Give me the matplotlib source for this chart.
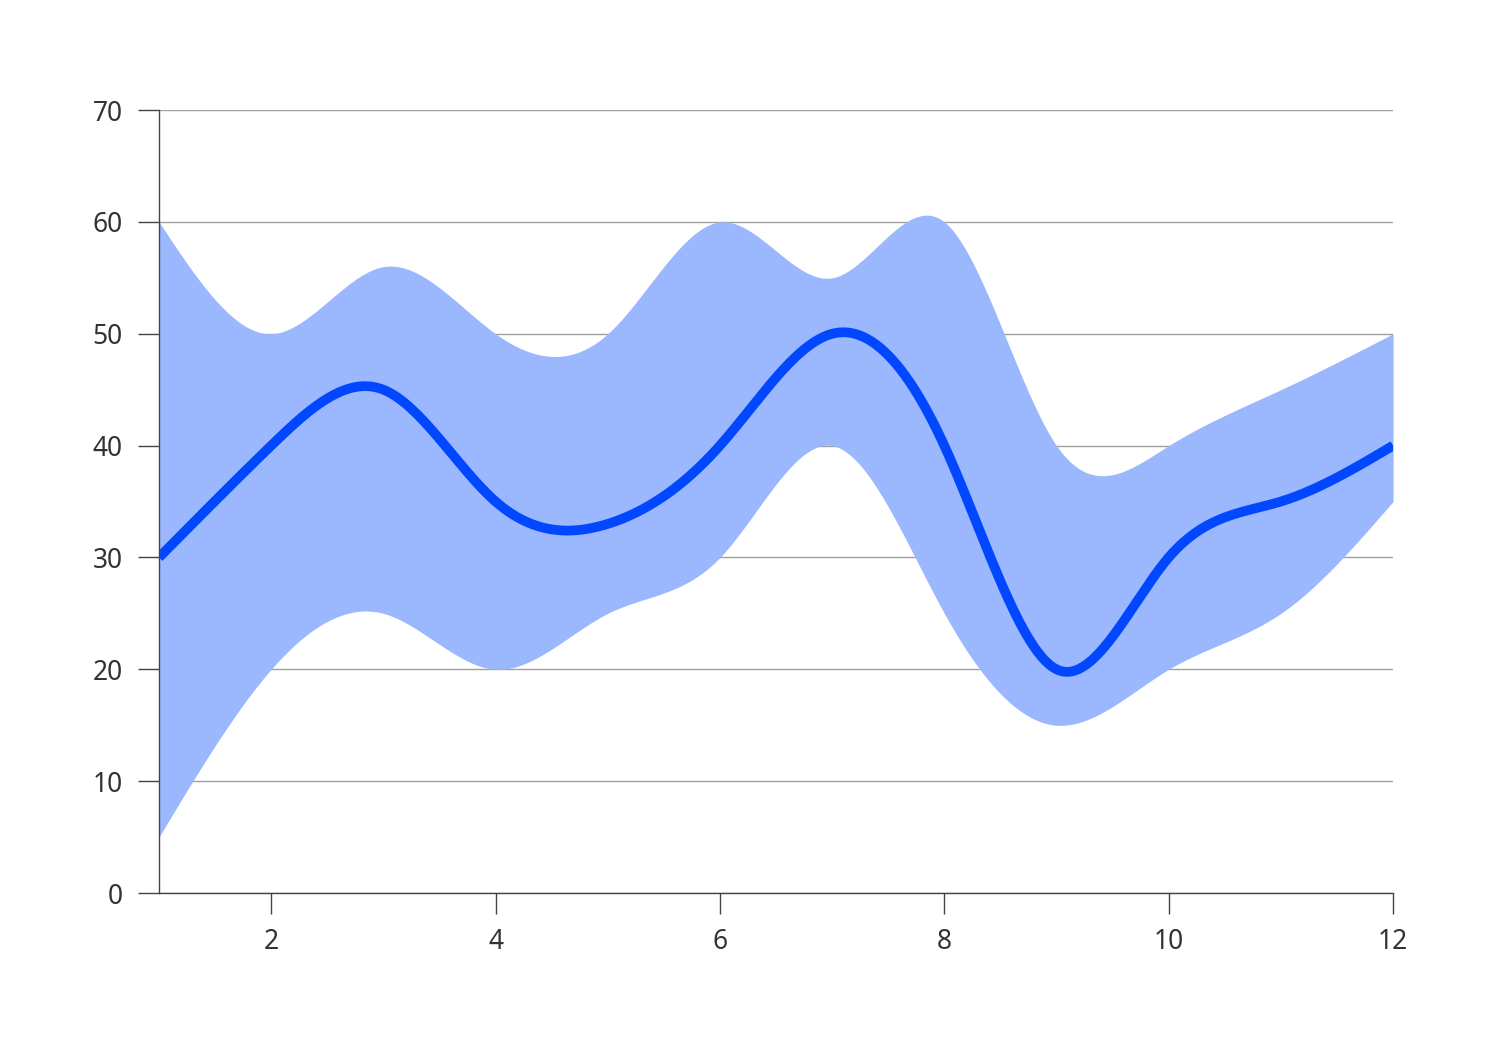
import numpy as np
import matplotlib
matplotlib.use('Agg')
import matplotlib.pyplot as plt

# values read at each integer x
x = [1, 2, 3, 4, 5, 6, 7, 8, 9, 10, 11, 12]
mid = [30, 40, 45, 35, 33, 40, 50, 40, 20, 30, 35, 40]
upper = [60, 50, 56, 50, 50, 60, 55, 60, 40, 40, 45, 50]
lower = [5, 20, 25, 20, 25, 30, 40, 25, 15, 20, 25, 35]

line_color = '#0047ff'
band_color = '#9bb8ff'
text_color = '#333333'


def smooth(xs, ys, n=60):
    # natural cubic spline through the points (drawing only)
    xs = np.asarray(xs, float)
    ys = np.asarray(ys, float)
    k = len(xs)
    h = np.diff(xs)
    A = np.zeros((k, k))
    r = np.zeros(k)
    A[0, 0] = A[-1, -1] = 1
    for i in range(1, k - 1):
        A[i, i - 1] = h[i - 1]
        A[i, i] = 2 * (h[i - 1] + h[i])
        A[i, i + 1] = h[i]
        r[i] = 6 * ((ys[i + 1] - ys[i]) / h[i] - (ys[i] - ys[i - 1]) / h[i - 1])
    M = np.linalg.solve(A, r)
    out_x, out_y = [], []
    for i in range(k - 1):
        t = np.linspace(xs[i], xs[i + 1], n, endpoint=False)
        a = xs[i + 1] - t
        b = t - xs[i]
        y = (M[i] * a**3 + M[i + 1] * b**3) / (6 * h[i]) \
            + (ys[i] / h[i] - M[i] * h[i] / 6) * a \
            + (ys[i + 1] / h[i] - M[i + 1] * h[i] / 6) * b
        out_x.append(t)
        out_y.append(y)
    out_x.append([xs[-1]])
    out_y.append([ys[-1]])
    return np.concatenate(out_x), np.concatenate(out_y)


plt.rcParams['font.family'] = ['Noto Sans', 'DejaVu Sans']

fig = plt.figure(figsize=(15, 10.5), dpi=100)
ax = fig.add_axes([0.106, 0.1495, 0.8227, 0.7457])

sx, su = smooth(x, upper)
_, sl = smooth(x, lower)
_, sm = smooth(x, mid)

ax.fill_between(sx, sl, su, color=band_color, lw=0, zorder=2)
ax.plot(sx, sm, color=line_color, lw=7, solid_capstyle='butt', zorder=3)

ax.set_xlim(1, 12)
ax.set_ylim(0, 70)
ax.set_yticks(range(0, 71, 10))
ax.set_xticks(range(2, 13, 2))

ax.yaxis.grid(True, color='#a0a0a0', lw=1)
ax.set_axisbelow(True)

for side in ['top', 'right']:
    ax.spines[side].set_visible(False)
for side in ['left', 'bottom']:
    ax.spines[side].set_color('#444444')
    ax.spines[side].set_linewidth(1)
    ax.spines[side].set_zorder(4)

ax.tick_params(axis='y', length=15, width=1, color='#444444', pad=11,
               labelsize=19, labelcolor=text_color)
ax.tick_params(axis='x', length=15, width=1, color='#444444', pad=10,
               labelsize=19, labelcolor=text_color)

fig.savefig('out.png', dpi=100)
